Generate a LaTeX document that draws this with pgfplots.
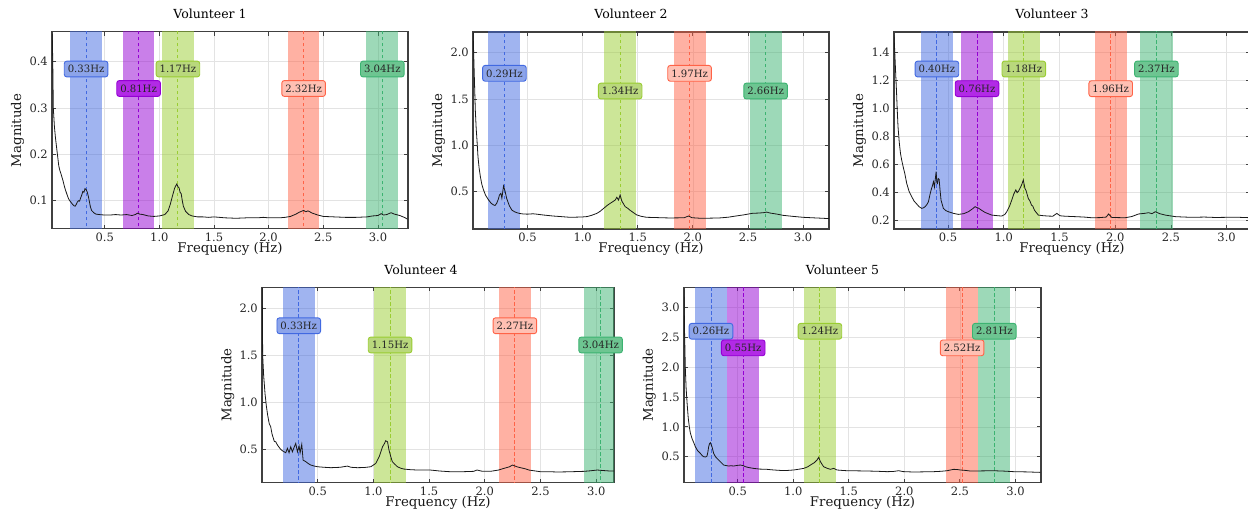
\documentclass[border=0pt]{standalone}
\usepackage{fontspec}
\setmainfont{DejaVu Serif}
\usepackage{pgfplots}
\pgfplotsset{compat=1.18}

\definecolor{cblue}{HTML}{4169E1}\definecolor{cblueL}{HTML}{8CA4EA}
\definecolor{cpurp}{HTML}{9400D3}\definecolor{cpurpL}{HTML}{B22AE6}
\definecolor{cgreen}{HTML}{9ACD32}\definecolor{cgreenL}{HTML}{B9D87C}
\definecolor{cred}{HTML}{FF6347}\definecolor{credL}{HTML}{FFC0B3}
\definecolor{cteal}{HTML}{3CB371}\definecolor{ctealL}{HTML}{6DC591}

\newcommand{\band}[2]{%
  \addplot[draw=none, fill=#2, fill opacity=0.5, forget plot]
    table[x expr=\thisrow{x}+#1, y=y, row sep=\\]{x y\\ -0.145 -10\\ 0.145 -10\\ 0.145 10\\ -0.145 10\\};
  \addplot[#2, dash pattern=on 3.5pt off 2.5pt, line width=0.9pt, forget plot]
    table[x expr=#1, y=y, row sep=\\]{y\\ -10\\ 10\\};
}
\newcommand{\lbl}[3]{%
  \node[font=\fontsize{10.1}{12}\selectfont, text=black!85, fill=#2L, draw=#2,
        line width=0.9pt, rounded corners=2.5pt, inner xsep=3.5pt, inner ysep=4.2pt,
        text height=7.4pt, text depth=0pt] at (axis cs:#1,#3) {#1Hz};
}

\pgfplotsset{
 vol/.style={
  scale only axis, anchor=south west, clip mode=individual,
  width=356pt, height=197pt,
  axis line style={draw=black!75, line width=1.1pt},
  tick align=inside, major tick length=4pt,
  tick style={black!75, line width=0.8pt},
  grid=major, major grid style={black!11, line width=0.7pt},
  xtick={0.5,1.0,1.5,2.0,2.5,3.0},
  tick label style={font=\fontsize{11.5}{13}\selectfont, text=black!85},
  xticklabel style={anchor=base, yshift=-12.5pt},
  yticklabel style={anchor=east, inner xsep=0pt, xshift=-4pt},
  /pgf/number format/.cd, fixed, fixed zerofill, precision=1, assume math mode=true,
  /pgfplots/.cd,
  title style={font=\fontsize{12.5}{15}\selectfont, at={(axis description cs:0.5,1)}, anchor=base, yshift=7pt, xshift=-20pt},
  xlabel={Frequency (Hz)}, ylabel={Magnitude},
  label style={font=\fontsize{13.3}{16}\selectfont, text=black!90},
  xlabel style={at={(axis description cs:0.5,0)}, anchor=base, yshift=-24pt},
  ylabel style={at={(axis description cs:-0.087,0.5)}, anchor=base},
 },
 spec/.style={black!90, line width=0.8pt, mark=none},
}

\begin{document}
\begin{tikzpicture}[x=1pt,y=1pt]
\useasboundingbox (0,0) rectangle (1248,515);

% ---------------- Volunteer 1
\begin{axis}[vol, at={(52pt,286pt)}, title={Volunteer 1},
  xmin=0.018, xmax=3.275, ymin=0.039, ymax=0.464, ytick={0.1,0.2,0.3,0.4}]
\band{0.33}{cblue}\band{0.81}{cpurp}\band{1.17}{cgreen}\band{2.32}{cred}\band{3.04}{cteal}
\addplot[spec] table {
f v
0.02 0.46
0.025 0.40
0.03 0.30
0.04 0.26
0.05 0.235
0.06 0.215
0.07 0.195
0.08 0.175
0.09 0.165
0.10 0.158
0.11 0.150
0.12 0.142
0.13 0.132
0.14 0.124
0.15 0.117
0.16 0.110
0.17 0.104
0.18 0.100
0.19 0.097
0.20 0.094
0.21 0.091
0.22 0.089
0.23 0.088
0.24 0.092
0.25 0.097
0.26 0.100
0.27 0.099
0.28 0.106
0.29 0.112
0.30 0.120
0.31 0.118
0.32 0.126
0.33 0.124
0.34 0.119
0.35 0.110
0.36 0.098
0.37 0.086
0.38 0.079
0.40 0.074
0.42 0.071
0.45 0.070
0.50 0.069
0.55 0.069
0.60 0.070
0.65 0.069
0.70 0.070
0.75 0.068
0.78 0.070
0.80 0.073
0.82 0.071
0.85 0.070
0.90 0.067
0.95 0.066
1.00 0.067
1.05 0.070
1.08 0.078
1.10 0.092
1.12 0.110
1.14 0.127
1.15 0.132
1.16 0.136
1.17 0.130
1.18 0.128
1.19 0.118
1.20 0.115
1.21 0.100
1.22 0.088
1.24 0.077
1.27 0.070
1.30 0.067
1.35 0.065
1.40 0.065
1.45 0.064
1.50 0.065
1.55 0.064
1.60 0.063
1.70 0.062
1.80 0.063
1.90 0.063
1.95 0.064
2.00 0.063
2.05 0.063
2.10 0.063
2.15 0.064
2.20 0.066
2.25 0.071
2.28 0.075
2.30 0.077
2.32 0.079
2.34 0.076
2.36 0.078
2.40 0.073
2.45 0.069
2.50 0.066
2.60 0.065
2.70 0.064
2.80 0.064
2.90 0.065
2.95 0.067
3.00 0.068
3.03 0.072
3.05 0.069
3.08 0.070
3.12 0.074
3.15 0.071
3.20 0.068
3.25 0.063
3.27 0.060
};
\lbl{0.33}{cblue}{0.384}\lbl{0.81}{cpurp}{0.342}\lbl{1.17}{cgreen}{0.384}
\lbl{2.32}{cred}{0.342}\lbl{3.04}{cteal}{0.384}
\end{axis}

% ---------------- Volunteer 2
\begin{axis}[vol, at={(473pt,286pt)}, title={Volunteer 2},
  xmin=0.005, xmax=3.235, ymin=0.098, ymax=2.223, ytick={0.5,1.0,1.5,2.0}]
\band{0.29}{cblue}\band{1.34}{cgreen}\band{1.97}{cred}\band{2.66}{cteal}
\addplot[spec] table {
f v
0.006 2.22
0.011 2.0
0.018 1.70
0.026 1.38
0.034 1.18
0.041 1.06
0.05 0.88
0.06 0.76
0.072 0.662
0.085 0.58
0.10 0.52
0.12 0.46
0.147 0.41
0.17 0.375
0.192 0.357
0.205 0.352
0.22 0.375
0.235 0.42
0.245 0.465
0.258 0.483
0.267 0.43
0.275 0.50
0.282 0.562
0.29 0.53
0.297 0.50
0.31 0.43
0.325 0.38
0.336 0.346
0.357 0.303
0.38 0.285
0.402 0.274
0.43 0.265
0.46 0.26
0.50 0.258
0.55 0.262
0.583 0.258
0.65 0.248
0.73 0.238
0.80 0.232
0.886 0.224
0.95 0.226
1.00 0.228
1.04 0.232
1.08 0.245
1.13 0.267
1.16 0.29
1.19 0.32
1.22 0.35
1.25 0.375
1.27 0.39
1.295 0.41
1.31 0.44
1.325 0.41
1.34 0.465
1.355 0.40
1.37 0.37
1.385 0.34
1.41 0.32
1.43 0.30
1.46 0.275
1.49 0.25
1.53 0.235
1.58 0.224
1.65 0.222
1.72 0.219
1.79 0.217
1.86 0.218
1.92 0.219
1.96 0.238
1.99 0.22
2.05 0.215
2.09 0.213
2.16 0.215
2.24 0.217
2.32 0.225
2.39 0.238
2.46 0.25
2.54 0.267
2.60 0.27
2.64 0.274
2.67 0.28
2.70 0.27
2.76 0.259
2.82 0.245
2.90 0.235
3.00 0.224
3.10 0.218
3.17 0.214
3.235 0.21
};
\lbl{0.29}{cblue}{1.777}\lbl{1.34}{cgreen}{1.586}\lbl{1.97}{cred}{1.777}\lbl{2.66}{cteal}{1.586}
\end{axis}

% ---------------- Volunteer 3
\begin{axis}[vol, at={(894pt,286pt)}, title={Volunteer 3},
  xmin=0.015, xmax=3.21, ymin=0.141, ymax=1.545, ytick={0.2,0.4,0.6,0.8,1.0,1.2,1.4}]
\band{0.40}{cblue}\band{0.76}{cpurp}\band{1.18}{cgreen}\band{1.96}{cred}\band{2.37}{cteal}
\addplot[spec] table {
f v
0.015 1.52
0.022 1.40
0.03 1.25
0.037 1.13
0.044 0.99
0.051 0.87
0.062 0.76
0.073 0.68
0.084 0.632
0.09 0.61
0.10 0.575
0.111 0.54
0.129 0.466
0.15 0.41
0.174 0.371
0.195 0.34
0.219 0.319
0.24 0.30
0.264 0.288
0.28 0.292
0.294 0.30
0.31 0.315
0.324 0.335
0.336 0.38
0.348 0.419
0.36 0.45
0.369 0.478
0.378 0.44
0.386 0.50
0.393 0.549
0.40 0.47
0.405 0.465
0.412 0.50
0.42 0.495
0.428 0.42
0.437 0.347
0.458 0.288
0.48 0.272
0.503 0.264
0.55 0.252
0.593 0.245
0.64 0.25
0.683 0.264
0.72 0.285
0.743 0.30
0.76 0.293
0.772 0.29
0.80 0.275
0.832 0.259
0.86 0.25
0.892 0.24
0.94 0.236
0.982 0.233
1.01 0.245
1.027 0.264
1.05 0.30
1.072 0.347
1.09 0.39
1.108 0.419
1.12 0.40
1.132 0.41
1.153 0.442
1.165 0.465
1.175 0.49
1.19 0.43
1.20 0.415
1.22 0.359
1.235 0.34
1.25 0.31
1.26 0.305
1.275 0.276
1.29 0.26
1.31 0.24
1.35 0.236
1.40 0.233
1.44 0.232
1.476 0.252
1.506 0.235
1.55 0.232
1.64 0.229
1.72 0.226
1.79 0.221
1.86 0.222
1.92 0.226
1.94 0.248
1.97 0.223
2.03 0.222
2.09 0.221
2.15 0.23
2.21 0.248
2.26 0.252
2.30 0.257
2.33 0.25
2.36 0.264
2.40 0.25
2.45 0.24
2.54 0.229
2.62 0.226
2.69 0.224
2.80 0.226
2.90 0.223
2.99 0.224
3.08 0.225
3.19 0.222
3.21 0.222
};
\lbl{0.40}{cblue}{1.281}\lbl{0.76}{cpurp}{1.141}\lbl{1.18}{cgreen}{1.281}
\lbl{1.96}{cred}{1.141}\lbl{2.37}{cteal}{1.281}
\end{axis}

% ---------------- Volunteer 4
\begin{axis}[vol, at={(262pt,32.3pt)}, width=352pt, height=195.4pt, title={Volunteer 4},
  title style={xshift=3pt},
  xmin=0.0, xmax=3.16, ymin=0.141, ymax=2.224, ytick={0.5,1.0,1.5,2.0}]
\band{0.33}{cblue}\band{1.15}{cgreen}\band{2.27}{cred}\band{3.04}{cteal}
\addplot[spec] table {
f v
0.002 2.22
0.006 1.50
0.015 1.28
0.028 1.08
0.04 0.95
0.051 0.86
0.065 0.77
0.078 0.738
0.09 0.66
0.111 0.58
0.123 0.578
0.14 0.54
0.168 0.496
0.185 0.48
0.198 0.471
0.213 0.46
0.228 0.507
0.243 0.46
0.258 0.524
0.273 0.47
0.288 0.517
0.303 0.56
0.318 0.47
0.333 0.532
0.342 0.46
0.357 0.55
0.369 0.382
0.393 0.365
0.415 0.345
0.438 0.329
0.47 0.318
0.498 0.311
0.56 0.305
0.618 0.301
0.70 0.305
0.767 0.318
0.80 0.305
0.857 0.301
0.92 0.303
0.977 0.311
1.022 0.347
1.052 0.418
1.082 0.524
1.10 0.56
1.11 0.588
1.127 0.577
1.14 0.489
1.156 0.418
1.17 0.365
1.19 0.34
1.216 0.311
1.246 0.295
1.276 0.286
1.33 0.28
1.395 0.276
1.45 0.277
1.51 0.276
1.60 0.265
1.69 0.258
1.80 0.258
1.90 0.262
1.93 0.276
1.98 0.262
2.05 0.262
2.12 0.275
2.17 0.293
2.22 0.31
2.25 0.329
2.29 0.31
2.32 0.301
2.36 0.29
2.40 0.275
2.50 0.258
2.58 0.258
2.65 0.255
2.75 0.257
2.89 0.262
2.95 0.268
3.01 0.276
3.07 0.27
3.13 0.265
3.16 0.265
};
\lbl{0.33}{cblue}{1.814}\lbl{1.15}{cgreen}{1.609}\lbl{2.27}{cred}{1.814}\lbl{3.04}{cteal}{1.609}
\end{axis}

% ---------------- Volunteer 5
\begin{axis}[vol, at={(684pt,32.3pt)}, width=357pt, height=195.4pt, title={Volunteer 5},
  xmin=0.017, xmax=3.23, ymin=0.064, ymax=3.342, ytick={0.5,1.0,1.5,2.0,2.5,3.0}]
\band{0.26}{cblue}\band{0.55}{cpurp}\band{1.24}{cgreen}\band{2.52}{cred}\band{2.81}{cteal}
\addplot[spec] table {
f v
0.017 3.30
0.022 2.60
0.029 1.98
0.036 1.65
0.044 1.42
0.055 1.15
0.065 1.0
0.074 0.90
0.09 0.80
0.104 0.74
0.119 0.668
0.14 0.60
0.164 0.556
0.18 0.52
0.194 0.50
0.21 0.495
0.224 0.51
0.232 0.58
0.239 0.668
0.247 0.72
0.254 0.735
0.262 0.70
0.269 0.668
0.284 0.556
0.30 0.50
0.314 0.472
0.344 0.416
0.374 0.36
0.40 0.35
0.419 0.344
0.44 0.348
0.464 0.344
0.50 0.355
0.524 0.36
0.55 0.35
0.569 0.333
0.60 0.318
0.644 0.304
0.70 0.292
0.764 0.288
0.82 0.278
0.884 0.27
0.95 0.27
1.004 0.277
1.05 0.29
1.094 0.304
1.13 0.33
1.169 0.377
1.19 0.40
1.214 0.444
1.229 0.489
1.244 0.42
1.26 0.37
1.274 0.332
1.30 0.31
1.334 0.288
1.364 0.304
1.394 0.277
1.44 0.27
1.484 0.265
1.57 0.263
1.664 0.26
1.75 0.256
1.844 0.249
1.90 0.252
1.949 0.265
1.99 0.25
2.084 0.243
2.17 0.246
2.264 0.249
2.33 0.255
2.384 0.265
2.444 0.288
2.475 0.285
2.504 0.277
2.55 0.27
2.594 0.26
2.70 0.262
2.80 0.265
2.90 0.258
2.984 0.249
3.10 0.245
3.225 0.237
};
\lbl{0.26}{cblue}{2.604}\lbl{0.55}{cpurp}{2.326}\lbl{1.24}{cgreen}{2.604}
\lbl{2.52}{cred}{2.326}\lbl{2.81}{cteal}{2.604}
\end{axis}
\end{tikzpicture}
\end{document}
